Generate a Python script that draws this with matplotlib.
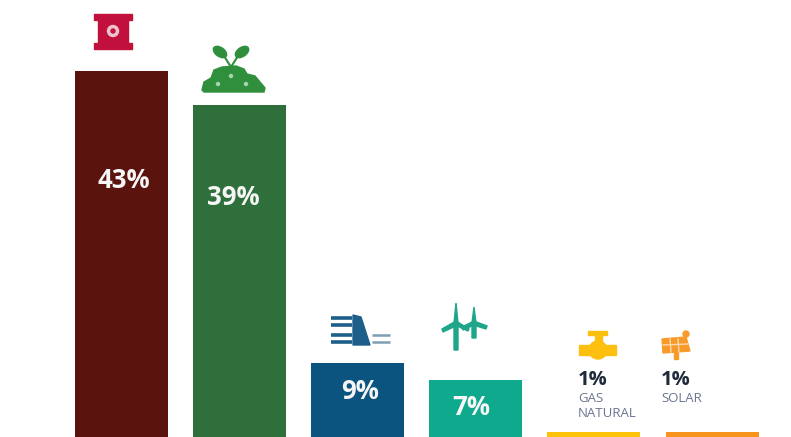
#!/usr/bin/env python3
"""Energy mix bars with icons, cropped at the bottom edge."""
import matplotlib
matplotlib.use('Agg')  # headless
import matplotlib.pyplot as plt
from matplotlib.patches import Circle, Ellipse, Polygon, Rectangle

plt.rcParams['font.family'] = ['Open Sans', 'DejaVu Sans']

sources = ['Carbon', 'Biomass', 'Hydro', 'Wind', 'Gas', 'Solar']
shares = [43, 39.1, 9.1, 7.1, 1.05, 1.05]
inside_labels = ['43%', '39%', '9%', '7%']
outside_labels = ['1%', '1%']
outside_names = [['GAS', 'NATURAL'], ['SOLAR']]
bar_colors = ['#5a130d', '#2f6f3c', '#0b5480', '#0fa98d', '#fdc30a', '#f7941d']


def draw_icons(px):
    # barrel
    red = '#c2103c'
    px.add_patch(Rectangle((94, 14), 38, 6, color=red))
    px.add_patch(Rectangle((98, 20), 30, 23, color=red))
    px.add_patch(Rectangle((94, 43), 38, 6, color=red))
    px.add_patch(Circle((113, 31), 5.5, color='#eec3ce'))
    px.add_patch(Circle((113, 31), 2, color=red))

    # plant on a mound
    green = '#2f8f3d'
    px.add_patch(Polygon([(202, 90), (204, 82), (211, 78), (214, 70), (222, 67), (236, 66),
                          (244, 69), (247, 74), (255, 76), (265, 88), (264, 92), (204, 92)], color=green))
    px.add_patch(Ellipse((220, 52), 15, 9, angle=35, color=green))
    px.add_patch(Ellipse((242, 52), 15, 9, angle=-35, color=green))
    px.plot([224, 231, 238], [56, 67, 56], color=green, lw=1.5)
    for x, y in [(231, 76), (246, 84), (218, 84)]:
        px.add_patch(Circle((x, y), 1.5, color='#a9d3ae'))

    # dam
    blue = '#1d5f8a'
    for y in [318, 325, 335, 342]:
        px.plot([331, 352], [y, y], color=blue, lw=2.6, solid_capstyle='butt')
    px.add_patch(Polygon([(353, 315), (361, 317), (370, 345), (353, 345)], color=blue))
    for y in [335, 342]:
        px.plot([372, 390], [y, y], color='#7d9fb5', lw=1.8, solid_capstyle='butt')

    # wind turbines
    teal = '#1fa58a'
    px.add_patch(Polygon([(454, 323), (456, 303), (458, 323), (458, 350), (454, 350)], color=teal))
    px.add_patch(Polygon([(456, 321), (442, 329), (443, 332), (458, 325)], color=teal))
    px.add_patch(Polygon([(456, 321), (469, 329), (468, 331), (455, 325)], color=teal))
    px.add_patch(Polygon([(472, 323), (474, 307), (476, 323), (476, 338), (472, 338)], color=teal))
    px.add_patch(Polygon([(474, 321), (462, 327), (463, 330), (474, 325)], color=teal))
    px.add_patch(Polygon([(474, 321), (487, 326), (486, 329), (473, 325)], color=teal))

    # gas tap
    yellow = '#fdc010'
    px.add_patch(Rectangle((588, 331), 19, 4, color=yellow))
    px.add_patch(Rectangle((595, 334), 7, 10, color=yellow))
    px.add_patch(Rectangle((579, 345), 37, 10, color=yellow))
    px.add_patch(Circle((598, 350), 9, color=yellow))

    # solar panel
    orange = '#f79a2a'
    px.add_patch(Polygon([(662, 339), (686, 337), (690, 351), (663, 353)], color=orange))
    for x in [670, 678]:
        px.plot([x, x + 1], [339, 352], color='#fbd9ae', lw=1)
    px.plot([663, 688], [345, 344], color='#fbd9ae', lw=1)
    px.add_patch(Circle((686, 334), 3, color=orange))
    px.add_patch(Rectangle((674, 352), 4, 7, color=orange))


def main():
    fig = plt.figure(figsize=(7.91, 4.37), dpi=100)
    ax = fig.add_axes([0, 0, 1, 1])
    x = list(range(len(sources)))
    ax.bar(x, shares, width=0.787, color=bar_colors)
    ax.set_xlim(-1.024, 5.668)
    ax.set_ylim(0.47, 51.3)
    ax.axis('off')

    # inside labels
    offsets = [(0.025, 30.3), (-0.05, 28.37), (0.025, 5.8), (-0.04, 3.9)]
    for i, label in enumerate(inside_labels):
        ax.text(x[i] + offsets[i][0], offsets[i][1], label, color='#f6f6f6', fontsize=18.5,
                fontweight='bold', ha='center', va='center')

    # pixel overlay for icons and small captions
    px = fig.add_axes([0, 0, 1, 1], facecolor='none')
    px.set_xlim(0, 791)
    px.set_ylim(437, 0)
    px.axis('off')
    draw_icons(px)

    for label, names, left in zip(outside_labels, outside_names, [578, 661]):
        px.text(left, 380, label, color='#1f2a3a', fontsize=14.5, fontweight='bold',
                ha='left', va='center')
        for j, name in enumerate(names):
            px.text(left, 398 + 15.5 * j, name, color='#6b7590', fontsize=9.5,
                    ha='left', va='center')

    fig.savefig('out.png', dpi=100)


if __name__ == '__main__':
    main()
